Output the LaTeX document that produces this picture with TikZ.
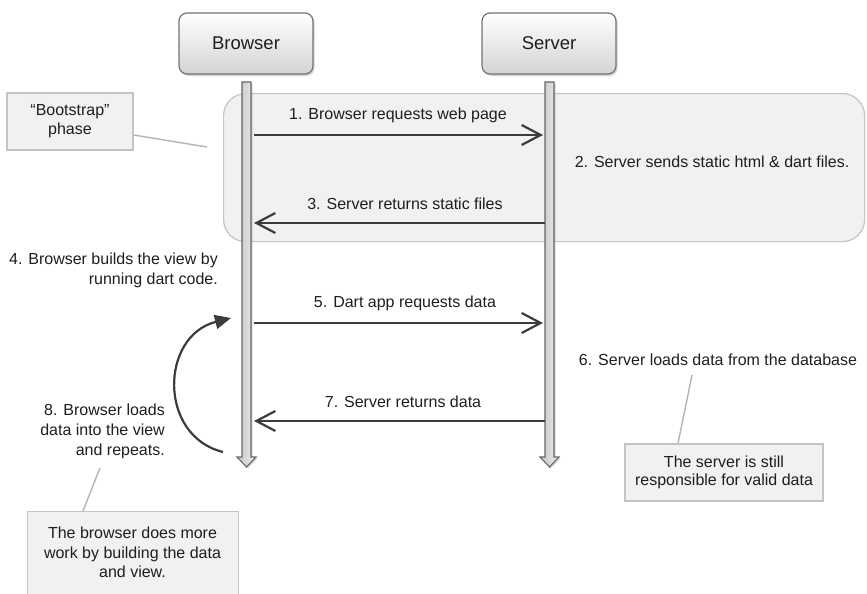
\documentclass[tikz,border=0pt]{standalone}
\usepackage{fontspec}
\setmainfont{Liberation Sans}
\usetikzlibrary{arrows.meta,shadows}
\definecolor{txt}{HTML}{1E1E1E}
\definecolor{arr}{HTML}{3C3C3C}
\definecolor{boxfill}{HTML}{F1F1F1}
\definecolor{boxline}{HTML}{C4C4C4}
\definecolor{conn}{HTML}{B4B4B4}
\tikzset{
  header/.style={draw=black!55, line width=1.2pt, rounded corners=8pt,
    top color=white, bottom color=black!17, minimum width=134pt, minimum height=61pt,
    font=\fontsize{18.5}{22}\selectfont, text=txt,
    drop shadow={shadow xshift=1.5pt, shadow yshift=-2pt, opacity=0.35}},
  note/.style={draw=boxline, line width=1.3pt, fill=boxfill, align=center,
    font=\fontsize{16}{19}\selectfont, text=txt, inner sep=0pt},
  lbl/.style={font=\fontsize{16}{19}\selectfont, text=txt, inner sep=0pt},
  msg/.style={draw=arr, line width=2.2pt, -{Straight Barb[length=19pt,width=20pt,line width=2.2pt]}},
  connector/.style={draw=conn, line width=1.4pt},
  lifeline/.style={draw=black!60, line width=1.1pt, left color=black!22, right color=black!8,
    drop shadow={shadow xshift=1.5pt, shadow yshift=-1.5pt, opacity=0.3}},
}
\begin{document}
\begin{tikzpicture}[x=1pt, y=-1pt]
\clip (0,0) rectangle (867,594);
\useasboundingbox (0,0) rectangle (867,594);

% bootstrap phase area
\node[draw=boxline, line width=1.2pt, fill=boxfill, rounded corners=22pt,
  minimum width=641pt, minimum height=148pt, inner sep=0pt, anchor=north west] (phase) at (223,93) {};

% headers
\node[header] (browser) at (246,43.5) {Browser};
\node[header] (server) at (549,43.5) {Server};

% lifelines
\path[lifeline] (242,82) -- (242,457) -- (237,457) -- (246.5,467) -- (256,457) -- (251,457) -- (251,82) -- cycle;
\path[lifeline] (545,82) -- (545,457) -- (540,457) -- (549.5,467) -- (559,457) -- (554,457) -- (554,82) -- cycle;
\coordinate (blife) at (246.5,82);
\coordinate (slife) at (549.5,82);

% message endpoints
\coordinate (b1) at (254,135); \coordinate (s1) at (543,135);
\coordinate (s3) at (545,223); \coordinate (b3) at (254,223);
\coordinate (b5) at (254,323); \coordinate (s5) at (543,323);
\coordinate (s7) at (545,421); \coordinate (b7) at (254,421);

\draw[msg] (b1) -- (s1);
\draw[msg] (s3) -- (b3);
\draw[msg] (b5) -- (s5);
\draw[msg] (s7) -- (b7);

\node[lbl] (l1) at (398,115) {1. Browser requests web page};
\node[lbl] (l3) at (405,204) {3. Server returns static files};
\node[lbl] (l5) at (405,303) {5. Dart app requests data};
\node[lbl] (l7) at (403,402) {7. Server returns data};
\node[lbl] (l2) at (712,162) {2. Server sends static html \& dart files.};
\node[lbl] (l6) at (718,360) {6. Server loads data from the database};

\node[lbl, align=right, anchor=north east, font=\fontsize{16}{20}\selectfont] (l4) at (218,253) {4. Browser builds the view by\\running dart code.};
\node[lbl, align=right, anchor=north east, font=\fontsize{16}{19.7}\selectfont] (l8) at (165,404) {8. Browser loads\\data into the view\\and repeats.};

% loop arrow
\coordinate (c8a) at (223,452);
\coordinate (c8b) at (231,318);
\draw[draw=arr, line width=2.2pt, -{Triangle[length=16pt,width=14pt]}]
  (c8a) .. controls (158,436) and (160,336) .. (c8b);

% notes
\node[note, minimum width=126pt, minimum height=57pt, font=\fontsize{16}{19}\selectfont] (boot) at (70,121.5) {“Bootstrap”\\phase};
\coordinate (bootend) at (207,147);
\draw[connector] (boot.east |- 0,135) -- (bootend);

\node[note, minimum width=198pt, minimum height=57pt, font=\fontsize{16}{18.5}\selectfont] (snote) at (724,472.5) {The server is still\\responsible for valid data};
\coordinate (l6end) at (692,375);
\draw[connector] (l6end) -- (snote.north -| 678,0);

\node[note, minimum width=211pt, minimum height=100pt, anchor=north west] (bnote) at (27,511) {};
\node[lbl, align=center, anchor=north, font=\fontsize{16}{19.3}\selectfont] (bnotetext) at (132.5,527) {The browser does more\\work by building the data\\and view.};
\coordinate (l8end) at (100,468);
\draw[connector] (l8end) -- (bnote.north -| 83,0);
\end{tikzpicture}
\end{document}
